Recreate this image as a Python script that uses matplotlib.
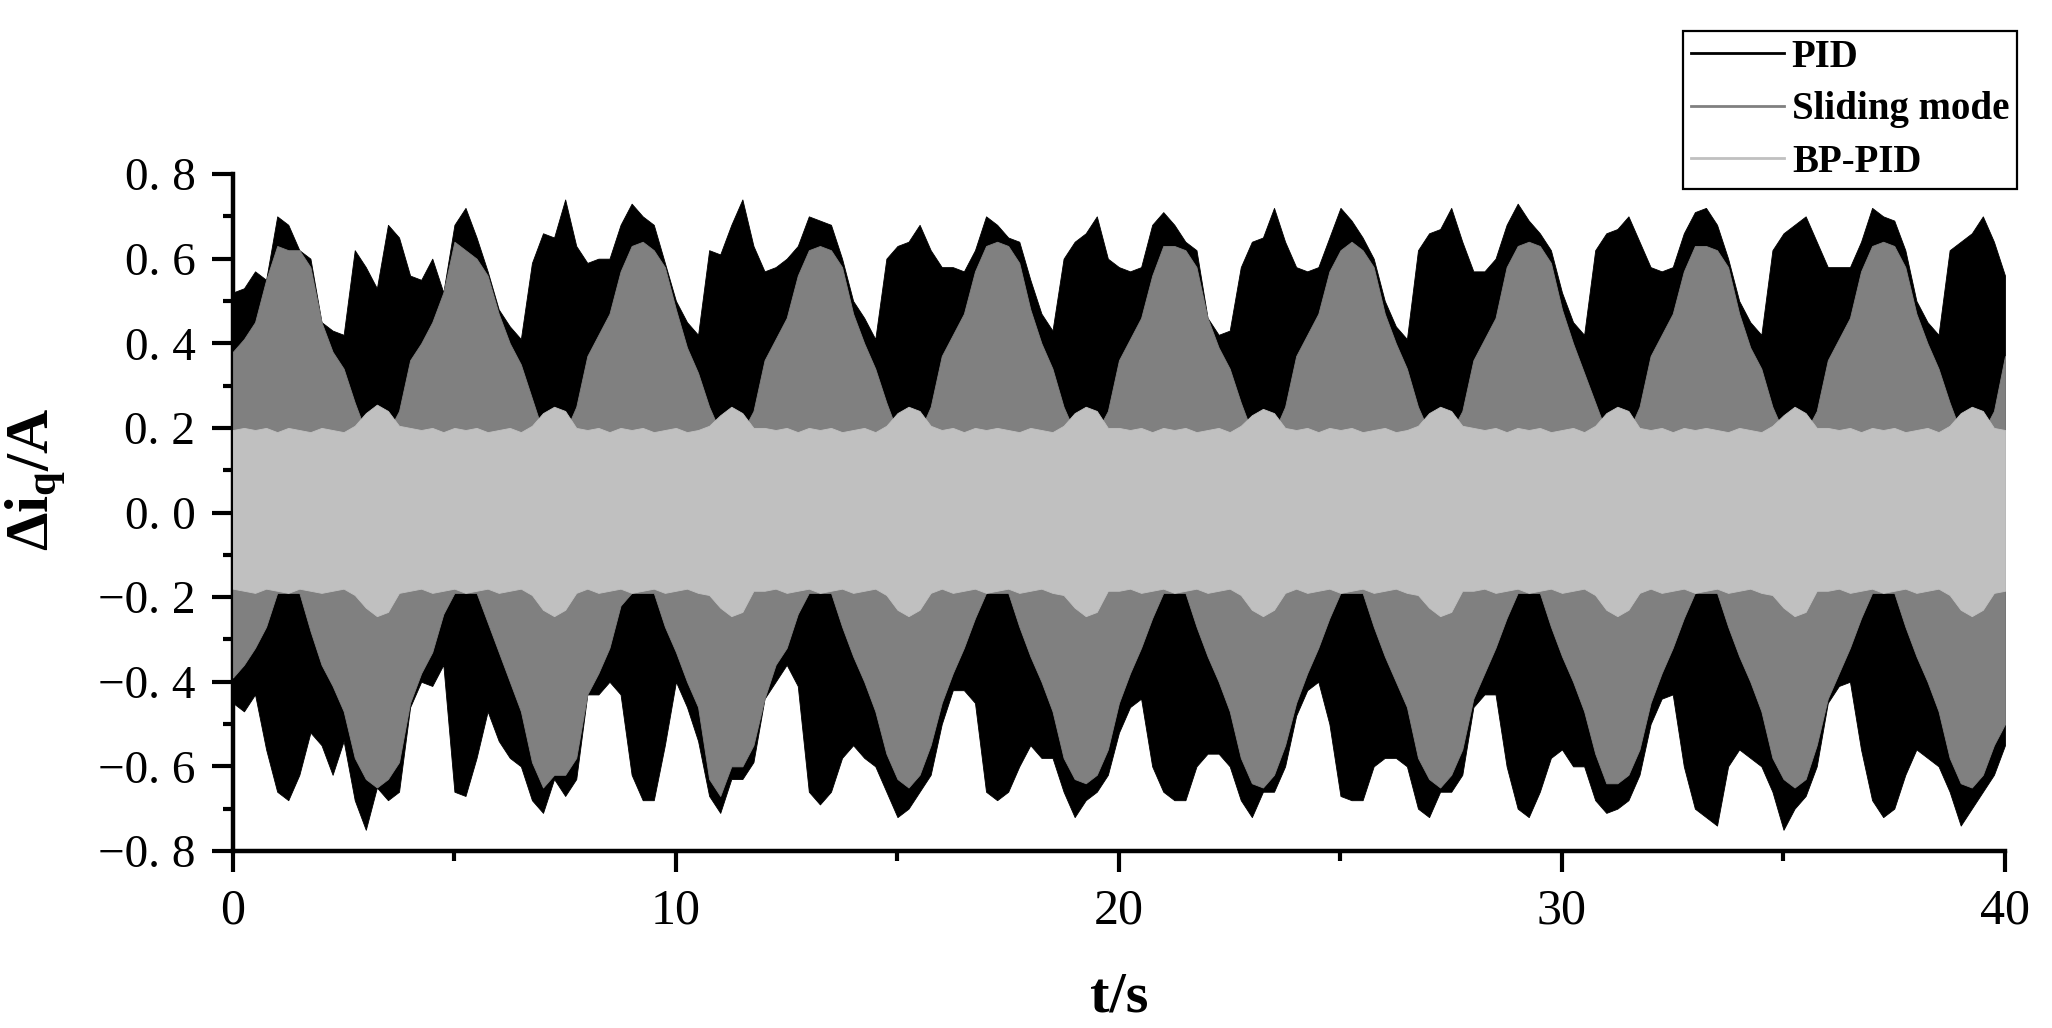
import numpy as np
import matplotlib
matplotlib.use("Agg")
import matplotlib.pyplot as plt
from matplotlib.lines import Line2D
from matplotlib.ticker import MultipleLocator, FuncFormatter

# ---------------- data (envelopes, every 0.25 s) ----------------
time_s = np.linspace(0, 40, 161)

pid_upper = [
    0.52, 0.53, 0.57, 0.55, 0.70, 0.68, 0.62, 0.60, 0.45, 0.43, 0.42, 0.62, 0.58, 0.53, 0.68, 0.65,
    0.56, 0.55, 0.60, 0.52, 0.68, 0.72, 0.65, 0.57, 0.48, 0.44, 0.41, 0.59, 0.66, 0.65, 0.74, 0.63,
    0.59, 0.60, 0.60, 0.68, 0.73, 0.70, 0.68, 0.59, 0.50, 0.45, 0.42, 0.62, 0.61, 0.68, 0.74, 0.63,
    0.57, 0.58, 0.60, 0.63, 0.70, 0.69, 0.68, 0.60, 0.50, 0.46, 0.41, 0.60, 0.63, 0.64, 0.68, 0.62,
    0.58, 0.58, 0.57, 0.62, 0.70, 0.68, 0.65, 0.64, 0.55, 0.47, 0.43, 0.60, 0.64, 0.66, 0.70, 0.60,
    0.58, 0.57, 0.58, 0.68, 0.71, 0.68, 0.64, 0.62, 0.46, 0.42, 0.43, 0.58, 0.64, 0.65, 0.72, 0.64,
    0.58, 0.57, 0.58, 0.65, 0.72, 0.69, 0.65, 0.60, 0.50, 0.44, 0.41, 0.62, 0.66, 0.67, 0.72, 0.64,
    0.57, 0.57, 0.60, 0.68, 0.73, 0.69, 0.66, 0.62, 0.52, 0.45, 0.42, 0.62, 0.66, 0.67, 0.70, 0.64,
    0.58, 0.57, 0.58, 0.66, 0.71, 0.72, 0.68, 0.60, 0.50, 0.45, 0.42, 0.62, 0.66, 0.68, 0.70, 0.64,
    0.58, 0.58, 0.58, 0.64, 0.72, 0.70, 0.69, 0.62, 0.50, 0.45, 0.42, 0.62, 0.64, 0.66, 0.70, 0.64,
    0.56,
]
pid_lower = [
    -0.45, -0.47, -0.43, -0.56, -0.66, -0.68, -0.62, -0.52, -0.55, -0.62, -0.54, -0.68, -0.75, -0.65, -0.68, -0.66,
    -0.46, -0.40, -0.41, -0.36, -0.66, -0.67, -0.58, -0.47, -0.54, -0.58, -0.60, -0.68, -0.71, -0.63, -0.67, -0.63,
    -0.43, -0.43, -0.40, -0.43, -0.62, -0.68, -0.68, -0.55, -0.40, -0.46, -0.54, -0.67, -0.71, -0.63, -0.63, -0.59,
    -0.44, -0.40, -0.36, -0.41, -0.66, -0.69, -0.66, -0.58, -0.55, -0.58, -0.60, -0.66, -0.72, -0.70, -0.66, -0.62,
    -0.50, -0.42, -0.42, -0.45, -0.66, -0.68, -0.66, -0.60, -0.55, -0.58, -0.58, -0.66, -0.72, -0.68, -0.66, -0.62,
    -0.52, -0.46, -0.44, -0.60, -0.66, -0.68, -0.68, -0.60, -0.57, -0.57, -0.60, -0.68, -0.72, -0.66, -0.66, -0.60,
    -0.48, -0.42, -0.40, -0.50, -0.67, -0.68, -0.68, -0.60, -0.58, -0.58, -0.60, -0.70, -0.72, -0.66, -0.66, -0.62,
    -0.46, -0.43, -0.43, -0.60, -0.70, -0.72, -0.66, -0.58, -0.56, -0.60, -0.60, -0.68, -0.71, -0.70, -0.68, -0.62,
    -0.50, -0.44, -0.43, -0.60, -0.70, -0.72, -0.74, -0.60, -0.56, -0.58, -0.60, -0.66, -0.75, -0.70, -0.67, -0.60,
    -0.45, -0.41, -0.40, -0.56, -0.68, -0.72, -0.70, -0.62, -0.56, -0.58, -0.60, -0.66, -0.74, -0.70, -0.66, -0.62,
    -0.55,
]
sm_upper = [
    0.38, 0.41, 0.45, 0.55, 0.63, 0.62, 0.62, 0.58, 0.45, 0.38, 0.34, 0.26, 0.19, 0.19, 0.19, 0.24,
    0.36, 0.40, 0.45, 0.52, 0.64, 0.62, 0.60, 0.56, 0.47, 0.40, 0.35, 0.27, 0.19, 0.19, 0.19, 0.25,
    0.37, 0.42, 0.47, 0.57, 0.63, 0.64, 0.62, 0.58, 0.48, 0.39, 0.33, 0.25, 0.19, 0.19, 0.19, 0.24,
    0.36, 0.41, 0.46, 0.56, 0.62, 0.63, 0.62, 0.58, 0.47, 0.40, 0.34, 0.26, 0.19, 0.19, 0.19, 0.25,
    0.37, 0.42, 0.47, 0.57, 0.63, 0.64, 0.63, 0.59, 0.48, 0.40, 0.34, 0.25, 0.19, 0.19, 0.19, 0.24,
    0.36, 0.41, 0.46, 0.56, 0.63, 0.63, 0.62, 0.58, 0.46, 0.39, 0.34, 0.26, 0.19, 0.19, 0.19, 0.25,
    0.37, 0.42, 0.47, 0.57, 0.62, 0.64, 0.62, 0.58, 0.47, 0.40, 0.34, 0.25, 0.19, 0.19, 0.19, 0.24,
    0.36, 0.41, 0.46, 0.58, 0.63, 0.64, 0.63, 0.59, 0.48, 0.40, 0.33, 0.26, 0.19, 0.19, 0.19, 0.25,
    0.37, 0.42, 0.47, 0.57, 0.63, 0.63, 0.62, 0.58, 0.47, 0.39, 0.34, 0.25, 0.19, 0.19, 0.19, 0.24,
    0.36, 0.41, 0.46, 0.57, 0.63, 0.64, 0.63, 0.58, 0.47, 0.40, 0.34, 0.26, 0.19, 0.19, 0.19, 0.24,
    0.37,
]
sm_lower = [
    -0.39, -0.36, -0.32, -0.27, -0.19, -0.19, -0.19, -0.28, -0.36, -0.41, -0.47, -0.58, -0.63, -0.65, -0.63, -0.59,
    -0.45, -0.38, -0.33, -0.24, -0.19, -0.19, -0.19, -0.26, -0.33, -0.40, -0.47, -0.59, -0.65, -0.62, -0.62, -0.58,
    -0.43, -0.38, -0.32, -0.22, -0.19, -0.19, -0.19, -0.27, -0.33, -0.40, -0.46, -0.63, -0.67, -0.60, -0.60, -0.55,
    -0.44, -0.36, -0.32, -0.24, -0.19, -0.19, -0.19, -0.27, -0.34, -0.40, -0.47, -0.57, -0.63, -0.65, -0.62, -0.55,
    -0.45, -0.38, -0.32, -0.25, -0.19, -0.19, -0.19, -0.27, -0.34, -0.40, -0.47, -0.58, -0.63, -0.64, -0.62, -0.56,
    -0.45, -0.38, -0.32, -0.25, -0.19, -0.19, -0.19, -0.27, -0.34, -0.40, -0.47, -0.58, -0.64, -0.65, -0.62, -0.55,
    -0.45, -0.38, -0.32, -0.25, -0.19, -0.19, -0.19, -0.27, -0.34, -0.40, -0.46, -0.58, -0.63, -0.65, -0.62, -0.56,
    -0.44, -0.38, -0.32, -0.25, -0.19, -0.19, -0.19, -0.27, -0.34, -0.40, -0.47, -0.57, -0.64, -0.64, -0.62, -0.56,
    -0.45, -0.38, -0.32, -0.25, -0.19, -0.19, -0.19, -0.27, -0.34, -0.40, -0.47, -0.58, -0.63, -0.65, -0.63, -0.55,
    -0.44, -0.38, -0.32, -0.25, -0.19, -0.19, -0.19, -0.27, -0.34, -0.40, -0.47, -0.58, -0.64, -0.65, -0.62, -0.55,
    -0.50,
]
bp_upper = [
    0.195, 0.20, 0.195, 0.20, 0.19, 0.20, 0.195, 0.19, 0.20, 0.195, 0.19, 0.205, 0.235, 0.255, 0.24, 0.205,
    0.20, 0.195, 0.20, 0.19, 0.20, 0.195, 0.20, 0.19, 0.195, 0.20, 0.19, 0.205, 0.235, 0.25, 0.24, 0.20,
    0.195, 0.20, 0.19, 0.20, 0.195, 0.20, 0.19, 0.195, 0.20, 0.19, 0.195, 0.205, 0.23, 0.25, 0.235, 0.20,
    0.20, 0.195, 0.20, 0.19, 0.20, 0.195, 0.20, 0.19, 0.195, 0.20, 0.19, 0.205, 0.235, 0.25, 0.24, 0.205,
    0.195, 0.20, 0.19, 0.20, 0.195, 0.20, 0.195, 0.19, 0.20, 0.195, 0.19, 0.205, 0.235, 0.25, 0.24, 0.20,
    0.20, 0.195, 0.20, 0.19, 0.20, 0.195, 0.20, 0.19, 0.195, 0.20, 0.19, 0.205, 0.23, 0.245, 0.235, 0.20,
    0.195, 0.20, 0.19, 0.20, 0.195, 0.20, 0.19, 0.195, 0.20, 0.19, 0.195, 0.205, 0.235, 0.25, 0.24, 0.205,
    0.20, 0.195, 0.20, 0.19, 0.20, 0.195, 0.20, 0.19, 0.195, 0.20, 0.19, 0.205, 0.235, 0.25, 0.24, 0.20,
    0.195, 0.20, 0.19, 0.20, 0.195, 0.20, 0.195, 0.19, 0.20, 0.195, 0.19, 0.205, 0.23, 0.25, 0.235, 0.20,
    0.20, 0.195, 0.20, 0.19, 0.20, 0.195, 0.20, 0.19, 0.195, 0.20, 0.19, 0.205, 0.235, 0.25, 0.24, 0.20,
    0.195,
]
bp_lower = [
    -0.18, -0.185, -0.19, -0.18, -0.185, -0.19, -0.18, -0.185, -0.19, -0.185, -0.18, -0.195, -0.225, -0.245, -0.235, -0.19,
    -0.185, -0.18, -0.19, -0.185, -0.18, -0.19, -0.185, -0.18, -0.19, -0.185, -0.18, -0.195, -0.23, -0.245, -0.23, -0.19,
    -0.18, -0.19, -0.185, -0.18, -0.19, -0.185, -0.18, -0.19, -0.185, -0.18, -0.19, -0.195, -0.225, -0.245, -0.235, -0.185,
    -0.185, -0.18, -0.19, -0.185, -0.18, -0.19, -0.185, -0.18, -0.19, -0.185, -0.18, -0.195, -0.23, -0.245, -0.23, -0.19,
    -0.18, -0.19, -0.185, -0.18, -0.19, -0.185, -0.18, -0.19, -0.185, -0.18, -0.19, -0.195, -0.225, -0.245, -0.235, -0.185,
    -0.185, -0.18, -0.19, -0.185, -0.18, -0.19, -0.185, -0.18, -0.19, -0.185, -0.18, -0.195, -0.23, -0.245, -0.23, -0.19,
    -0.18, -0.19, -0.185, -0.18, -0.19, -0.185, -0.18, -0.19, -0.185, -0.18, -0.19, -0.195, -0.225, -0.245, -0.235, -0.185,
    -0.185, -0.18, -0.19, -0.185, -0.18, -0.19, -0.185, -0.18, -0.19, -0.185, -0.18, -0.195, -0.23, -0.245, -0.23, -0.19,
    -0.18, -0.19, -0.185, -0.18, -0.19, -0.185, -0.18, -0.19, -0.185, -0.18, -0.19, -0.195, -0.225, -0.245, -0.235, -0.185,
    -0.185, -0.18, -0.19, -0.185, -0.18, -0.19, -0.185, -0.18, -0.19, -0.185, -0.18, -0.195, -0.23, -0.245, -0.23, -0.19,
    -0.185,
]

series_names = ["PID", "Sliding mode", "BP-PID"]
series_colors = ["#000000", "#808080", "#c0c0c0"]
x_ticks = [0, 10, 20, 30, 40]
y_ticks = [-0.8, -0.6, -0.4, -0.2, 0.0, 0.2, 0.4, 0.6, 0.8]

# ---------------- style ----------------
plt.rcParams["font.family"] = ["Liberation Serif", "DejaVu Serif"]
plt.rcParams["mathtext.fontset"] = "custom"
plt.rcParams["mathtext.rm"] = "Liberation Serif"
plt.rcParams["mathtext.bf"] = "Liberation Serif:bold"
plt.rcParams["mathtext.it"] = "Liberation Serif:italic"

fig = plt.figure(figsize=(20.52, 10.28), dpi=100)
ax = fig.add_axes([0.1135, 0.1722, 0.8636, 0.6585])

envelopes = [(pid_lower, pid_upper), (sm_lower, sm_upper), (bp_lower, bp_upper)]
for z, ((lo, hi), col) in enumerate(zip(envelopes, series_colors)):
    ax.fill_between(time_s, lo, hi, color=col, linewidth=0.6, edgecolor=col, zorder=2 + z)

ax.set_xlim(0, 40)
ax.set_ylim(-0.8, 0.8)
ax.set_xticks(x_ticks)
ax.set_yticks(y_ticks)
ax.xaxis.set_minor_locator(MultipleLocator(5))
ax.yaxis.set_minor_locator(MultipleLocator(0.1))


def yfmt(v, pos):
    if abs(v) < 1e-9:
        v = 0.0
    return f"{v:.1f}".replace(".", ". ").replace("-", "\u2212")


ax.yaxis.set_major_formatter(FuncFormatter(yfmt))

for s in ["top", "right"]:
    ax.spines[s].set_visible(False)
for s in ["left", "bottom"]:
    ax.spines[s].set_linewidth(3.2)

ax.tick_params(axis="both", which="major", direction="out", length=15, width=3.0)
ax.tick_params(axis="both", which="minor", direction="out", length=7, width=3.0)
ax.tick_params(axis="y", which="major", labelsize=34, pad=12)
ax.tick_params(axis="x", which="major", labelsize=36, pad=12)

ax.set_xlabel("t/s", fontsize=42, fontweight="bold", labelpad=26)
ax.set_ylabel(r"$\mathbf{\Delta i_{q}/A}$", fontsize=44, va="center")
ax.yaxis.set_label_coords(-0.111, 0.55)

handles = [Line2D([0], [0], color=c, lw=2.0) for c in series_colors]
leg = fig.legend(handles, series_names, loc="upper right",
                 bbox_to_anchor=(0.983, 0.970), bbox_transform=fig.transFigure,
                 prop={"family": "Liberation Serif", "weight": "bold", "size": 28},
                 frameon=True, fancybox=False, framealpha=1.0, edgecolor="black",
                 handlelength=2.4, handletextpad=0.2, labelspacing=0.4,
                 borderpad=0.2, borderaxespad=0)
leg.get_frame().set_linewidth(1.6)
leg.set_zorder(10)

fig.savefig("out.png", dpi=100)
